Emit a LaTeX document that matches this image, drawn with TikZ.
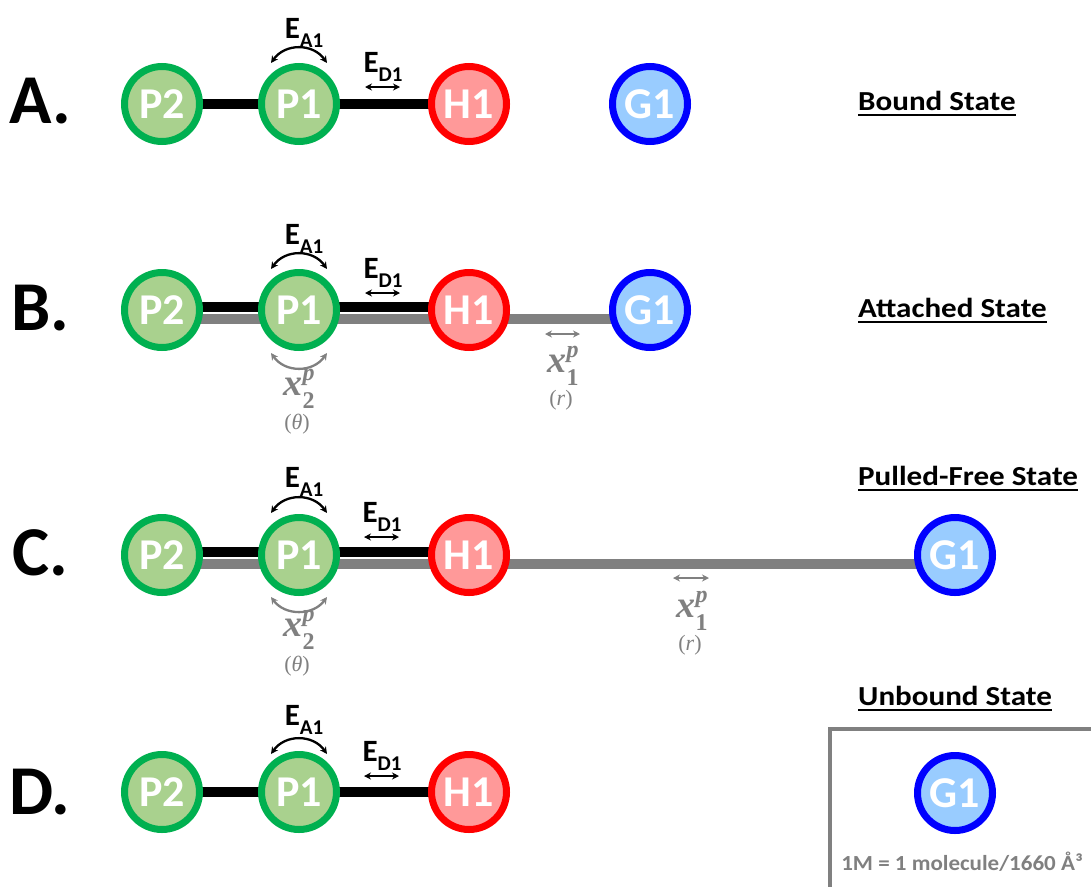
\documentclass[tikz,border=0pt]{standalone}
\usepackage{fontspec}
\setmainfont{Carlito}
\newfontfamily\mfont{Liberation Serif}
\usetikzlibrary{arrows.meta,backgrounds}
\definecolor{gD}{HTML}{00B050}
\definecolor{gL}{HTML}{A9D18E}
\definecolor{rD}{HTML}{FF0000}
\definecolor{rL}{HTML}{FF9999}
\definecolor{bD}{HTML}{0000FF}
\definecolor{bL}{HTML}{99CCFF}
\definecolor{gry}{HTML}{808080}
\newcommand{\Esub}[2]{E\raisebox{-0.3em}{\fontsize{21}{21}\selectfont #2}}
\newcommand{\xlab}[1]{{\mfont\bfseries\itshape\fontsize{38}{38}\selectfont x\rlap{\raisebox{0.38em}{\fontsize{24}{24}\selectfont p}}\raisebox{-0.34em}{\fontsize{24}{24}\selectfont\upshape #1}}}
\newcommand{\wide}[1]{\scalebox{1.13}[1]{#1}}
\begin{document}
\begin{tikzpicture}[x=1pt,y=-1pt,
  atom/.style={circle,minimum size=75pt,inner sep=0pt,line width=7pt,text=white,
    font=\fontsize{44}{44}\selectfont\bfseries},
  pn/.style={atom,draw=gD,fill=gL},
  hn/.style={atom,draw=rD,fill=rL},
  gn/.style={atom,draw=bD,fill=bL},
  bondK/.style={line width=10pt,black},
  bondG/.style={line width=10pt,gry},
  earc/.style={line width=2.3pt,black,arrows={Stealth[length=7pt,width=7pt]-Stealth[length=7pt,width=7pt]}},
  garc/.style={earc,gry},
  elbl/.style={inner sep=0pt,font=\fontsize{31}{31}\selectfont\bfseries},
  mlbl/.style={inner sep=0pt,text=gry},
  tlbl/.style={inner sep=0pt,text=gry,font=\mfont\fontsize{22}{22}\selectfont},
  rowlbl/.style={inner sep=0pt,font=\fontsize{70}{70}\selectfont\bfseries},
  state/.style={inner sep=0pt,anchor=base west,font=\fontsize{27.5}{27.5}\selectfont\bfseries},
  uline/.style={line width=2.5pt,black}
]
\useasboundingbox (0,0) rectangle (1091,886);

% ---------------- Row A ----------------
\node[rowlbl] (LA) at (40,101) {A.};
\node[pn] (P2a) at (162,104) {P2};
\node[pn] (P1a) at (299,104) {P1};
\node[hn] (H1a) at (469,104) {H1};
\node[gn] (G1a) at (650,104) {G1};
\begin{pgfonlayer}{background}
\draw[bondK] (P2a.center) -- (P1a.center) -- (H1a.center);
\end{pgfonlayer}
\draw[earc] ([shift={(-28,-41)}]P1a.center) .. controls ([shift={(-14,-61)}]P1a.center) and ([shift={(14,-61)}]P1a.center) .. ([shift={(28,-41)}]P1a.center);
\node[elbl] (EAa) at (304,33) {\Esub{E}{A1}};
\coordinate (dAa) at (365,87);
\coordinate (dAb) at (400,87);
\draw[earc] (dAa) -- (dAb);
\node[elbl] (EDa) at (383,67) {\Esub{E}{D1}};
\node[state] (SA) at (858,110) {\wide{Bound State}};
\draw[uline] ([yshift=-5pt]SA.base west) -- ([yshift=-5pt]SA.base east);

% ---------------- Row B ----------------
\node[rowlbl] (LB) at (40,308) {B.};
\node[pn] (P2b) at (162,310) {P2};
\node[pn] (P1b) at (299,310) {P1};
\node[hn] (H1b) at (469,310) {H1};
\node[gn] (G1b) at (650,310) {G1};
\begin{pgfonlayer}{background}
\draw[bondG] ([yshift=-9pt]P2b.center) -- ([yshift=-9pt]G1b.center);
\draw[bondK] ([yshift=3pt]P2b.center) -- ([yshift=3pt]P1b.center) -- ([yshift=3pt]H1b.center);
\end{pgfonlayer}
\draw[earc] ([shift={(-28,-41)}]P1b.center) .. controls ([shift={(-14,-61)}]P1b.center) and ([shift={(14,-61)}]P1b.center) .. ([shift={(28,-41)}]P1b.center);
\draw[garc] ([shift={(-28,43)}]P1b.center) .. controls ([shift={(-14,63)}]P1b.center) and ([shift={(14,63)}]P1b.center) .. ([shift={(28,43)}]P1b.center);
\node[elbl] (EAb) at (304,239) {\Esub{E}{A1}};
\coordinate (dBa) at (365,293);
\coordinate (dBb) at (400,293);
\draw[earc] (dBa) -- (dBb);
\node[elbl] (EDb) at (383,273) {\Esub{E}{D1}};
\node[mlbl] (X2b) at (299,389) {\xlab{2}};
\node[tlbl] (Tb) at (297,424) {(\textit{θ})};
\coordinate (xBa) at (545,334);
\coordinate (xBb) at (580,334);
\draw[garc] (xBa) -- (xBb);
\node[mlbl] (X1b) at (563,366) {\xlab{1}};
\node[tlbl] (Rb) at (561,400) {(\textit{r})};
\node[state] (SB) at (858,317) {\wide{Attached State}};
\draw[uline] ([yshift=-5pt]SB.base west) -- ([yshift=-5pt]SB.base east);

% ---------------- Row C ----------------
\node[rowlbl] (LC) at (40,553) {C.};
\node[pn] (P2c) at (162,555) {P2};
\node[pn] (P1c) at (299,555) {P1};
\node[hn] (H1c) at (469,555) {H1};
\node[gn] (G1c) at (955,555) {G1};
\begin{pgfonlayer}{background}
\draw[bondG] ([yshift=-9pt]P2c.center) -- ([yshift=-9pt]G1c.center);
\draw[bondK] ([yshift=3pt]P2c.center) -- ([yshift=3pt]P1c.center) -- ([yshift=3pt]H1c.center);
\end{pgfonlayer}
\draw[earc] ([shift={(-28,-42)}]P1c.center) .. controls ([shift={(-14,-62)}]P1c.center) and ([shift={(14,-62)}]P1c.center) .. ([shift={(28,-42)}]P1c.center);
\draw[garc] ([shift={(-28,42)}]P1c.center) .. controls ([shift={(-14,61)}]P1c.center) and ([shift={(14,61)}]P1c.center) .. ([shift={(28,42)}]P1c.center);
\node[elbl] (EAc) at (304,482) {\Esub{E}{A1}};
\coordinate (dCa) at (364,537);
\coordinate (dCb) at (399,537);
\draw[earc] (dCa) -- (dCb);
\node[elbl] (EDc) at (382,517) {\Esub{E}{D1}};
\node[mlbl] (X2c) at (299,630) {\xlab{2}};
\node[tlbl] (Tc) at (297,666) {(\textit{θ})};
\coordinate (xCa) at (673,578);
\coordinate (xCb) at (709,578);
\draw[garc] (xCa) -- (xCb);
\node[mlbl] (X1c) at (692,611) {\xlab{1}};
\node[tlbl] (Rc) at (690,645) {(\textit{r})};
\node[state] (SC) at (858,485) {\wide{Pulled-Free State}};
\draw[uline] ([yshift=-5pt]SC.base west) -- ([yshift=-5pt]SC.base east);

% ---------------- Row D ----------------
\node[rowlbl] (LD) at (40,792) {D.};
\node[pn] (P2d) at (162,792) {P2};
\node[pn] (P1d) at (299,792) {P1};
\node[hn] (H1d) at (469,792) {H1};
\begin{pgfonlayer}{background}
\draw[bondK] (P2d.center) -- (P1d.center) -- (H1d.center);
\end{pgfonlayer}
\draw[earc] ([shift={(-28,-38)}]P1d.center) .. controls ([shift={(-14,-58)}]P1d.center) and ([shift={(14,-58)}]P1d.center) .. ([shift={(28,-38)}]P1d.center);
\node[elbl] (EAd) at (304,720) {\Esub{E}{A1}};
\coordinate (dDa) at (364,776);
\coordinate (dDb) at (399,776);
\draw[earc] (dDa) -- (dDb);
\node[elbl] (EDd) at (382,756) {\Esub{E}{D1}};
\node[state] (SD) at (858,705) {\wide{Unbound State}};
\draw[uline] ([yshift=-5pt]SD.base west) -- ([yshift=-5pt]SD.base east);

% box
\coordinate (boxTR) at (1100,729);
\coordinate (boxBL) at (830,895);
\draw[gry,line width=4pt] (boxTR) -| (boxBL);
\node[gn] (G1d) at (955,793) {G1};
\node[inner sep=0pt,text=gry,font=\fontsize{21.5}{21.5}\selectfont\bfseries] (conc) at (962,862) {\scalebox{1.07}[1]{1M = 1 molecule/1660 Å³}};
\end{tikzpicture}
\end{document}
